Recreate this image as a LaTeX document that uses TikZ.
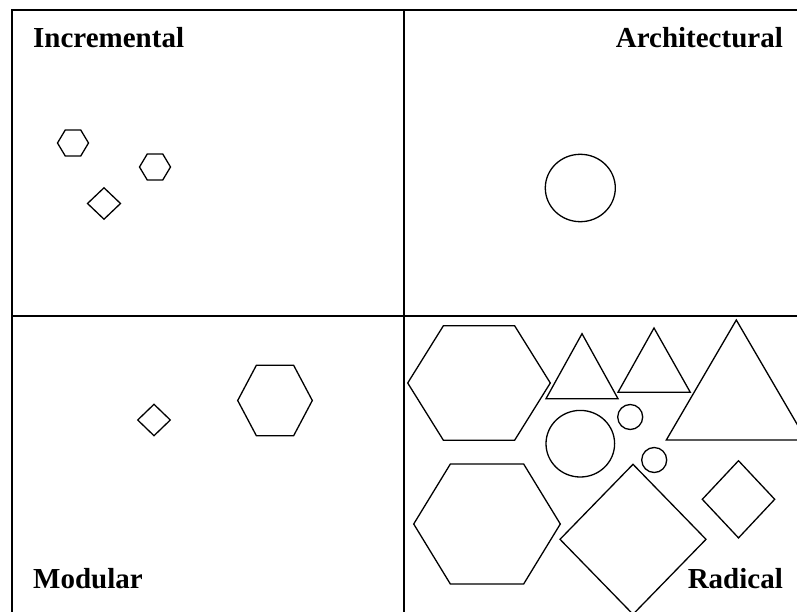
\documentclass[tikz,border=0pt]{standalone}
\usepackage{fontspec}
\setmainfont{Liberation Serif}
\usepackage{tikz}
\usetikzlibrary{positioning}

\tikzset{
  quadlabel/.style={inner sep=0pt, font=\fontsize{29}{33}\selectfont\bfseries},
  frameline/.style={line width=1.8pt},
  shapeline/.style={line width=1.3pt, line join=miter}
}

% hexagon: centre x, centre y, half width, half height
\newcommand{\hexat}[4]{\draw[shapeline] (#1,#2) ++(-#3,0) -- ++(#3/2,-#4) -- ++(#3,0) -- ++(#3/2,#4) -- ++(-#3/2,#4) -- ++(-#3,0) -- cycle;}
% diamond: centre x, centre y, half width, half height
\newcommand{\diamat}[4]{\draw[shapeline] (#1,#2) ++(0,-#4) -- ++(#3,#4) -- ++(-#3,#4) -- ++(-#3,-#4) -- cycle;}

\begin{document}
\begin{tikzpicture}[x=1pt, y=-1pt]
  \useasboundingbox (0,0) rectangle (797,612);
  \clip (0,0) rectangle (797,612);

  % quadrants
  \draw[frameline] (12,630) -- (12,10) -- (820,10);
  \draw[frameline] (404,10) -- (404,630);
  \draw[frameline] (12,316) -- (820,316);

  \node[quadlabel, anchor=base west] (incremental) at (33,48) {Incremental};
  \node[quadlabel, anchor=base east] (architectural) at (783,48) {Architectural};
  \node[quadlabel, anchor=base west] (modular) at (33,588) {Modular};
  \node[quadlabel, anchor=base east] (radical) at (783,588) {Radical};

  % incremental
  \hexat{73}{143}{15.5}{13}
  \hexat{155}{167}{15.5}{13}
  \diamat{104}{203.5}{16.5}{15.7}

  % architectural
  \draw[shapeline] (580.3,188) ellipse [x radius=35, y radius=33.7];

  % modular
  \diamat{154}{420}{16.3}{15.7}
  \hexat{275}{400.5}{37.3}{35.2}

  % radical
  \hexat{479}{383}{71.3}{57.2}
  \hexat{487}{524}{73.3}{60}
  \draw[shapeline] (582,333.7) -- (618,398.7) -- (546,398.7) -- cycle;
  \draw[shapeline] (654,328) -- (690.3,392.3) -- (618,392.3) -- cycle;
  \draw[shapeline] (736.3,320) -- (806.3,440) -- (666.3,440) -- cycle;
  \draw[shapeline] (580.3,443.7) ellipse [x radius=34.3, y radius=33.3];
  \draw[shapeline] (630.2,417) circle [radius=12.5];
  \draw[shapeline] (654.2,460) circle [radius=12.5];
  \diamat{633}{539.3}{73}{75}
  \diamat{738.5}{499.3}{36.2}{38.6}
\end{tikzpicture}
\end{document}
